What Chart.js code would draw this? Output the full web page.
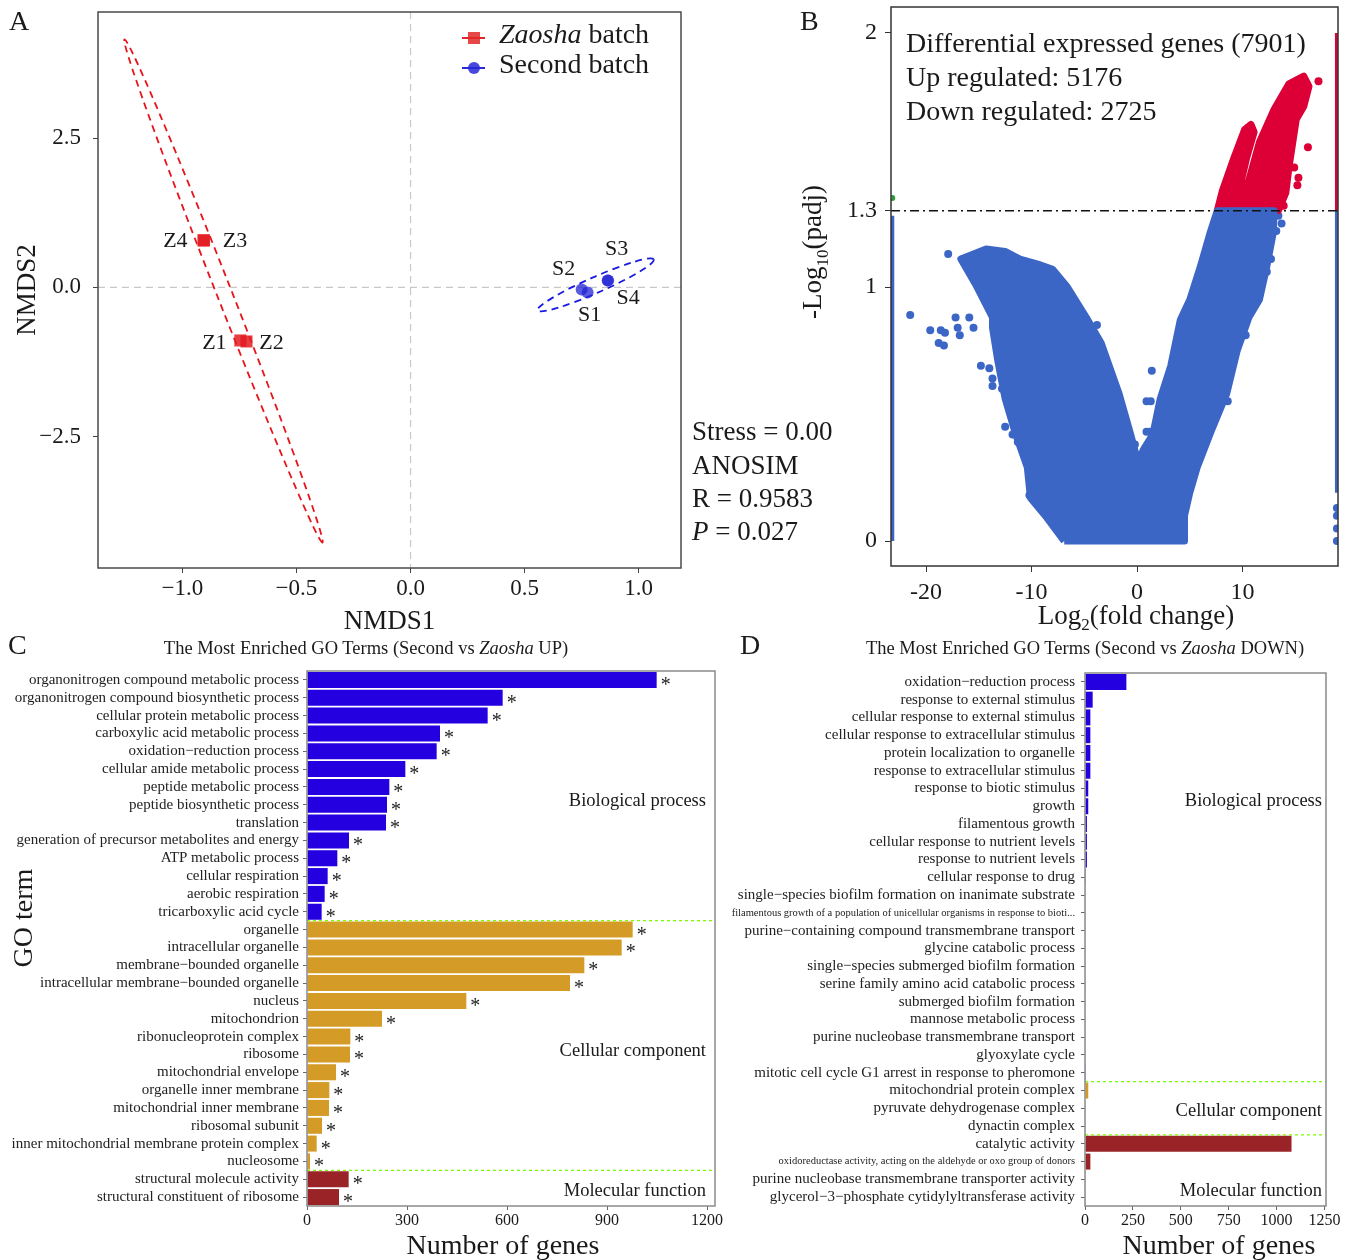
<!DOCTYPE html>
<html>
<head>
<meta charset="utf-8">
<title>NMDS, volcano and GO enrichment</title>
<script src="https://cdn.jsdelivr.net/npm/chart.js@4.4.1/dist/chart.umd.min.js"></script>
<style>
  body { margin: 0; background: #fff; }
  #page { position: relative; width: 1358px; height: 1260px; overflow: hidden; font-family: "Liberation Serif", "Times New Roman", serif; color: #1a1a1a; }
  #page canvas { position: absolute; }
  .t { position: absolute; white-space: nowrap; line-height: 1; }
  .c { transform: translateX(-50%); }
  .rot { transform: translate(-50%, -50%) rotate(-90deg); }
  .mk { position: absolute; }
</style>
</head>
<body>
<div id="page">
  <canvas id="nmds" width="700" height="640" style="left:0;top:0"></canvas>
  <canvas id="volcano" width="578" height="640" style="left:780px;top:0"></canvas>
  <canvas id="goUp" width="730" height="630" style="left:0;top:630px"></canvas>
  <canvas id="goDown" width="638" height="630" style="left:720px;top:630px"></canvas>

  <!-- panel letters -->
  <div class="t" style="left:9px;top:7px;font-size:28px">A</div>
  <div class="t" style="left:800px;top:7px;font-size:28px">B</div>
  <div class="t" style="left:8px;top:631px;font-size:28px">C</div>
  <div class="t" style="left:740px;top:631px;font-size:28px">D</div>

  <!-- A legend -->
  <div class="mk" style="left:462px;top:37px;width:23px;height:2px;background:#e0262b"></div>
  <div class="mk" style="left:468px;top:32px;width:12px;height:12px;background:rgba(226,40,40,0.85)"></div>
  <div class="t" style="left:499px;top:20px;font-size:28px"><i>Zaosha</i> batch</div>
  <div class="mk" style="left:462px;top:67px;width:23px;height:2px;background:#2a2ad6"></div>
  <div class="mk" style="left:468px;top:62px;width:12px;height:12px;border-radius:50%;background:rgba(40,40,214,0.85)"></div>
  <div class="t" style="left:499px;top:50px;font-size:28px">Second batch</div>

  <!-- A stats -->
  <div class="t" style="left:692px;top:418px;font-size:27px">Stress = 0.00</div>
  <div class="t" style="left:692px;top:452px;font-size:27px">ANOSIM</div>
  <div class="t" style="left:692px;top:485px;font-size:27px">R = 0.9583</div>
  <div class="t" style="left:692px;top:518px;font-size:27px"><i>P</i> = 0.027</div>

  <!-- B texts -->
  <div class="t" style="left:906px;top:29px;font-size:28px">Differential expressed genes (7901)</div>
  <div class="t" style="left:906px;top:63px;font-size:28px">Up regulated: 5176</div>
  <div class="t" style="left:906px;top:97px;font-size:28px">Down regulated: 2725</div>
  <div class="t c" style="left:1136px;top:602px;font-size:27px">Log<sub style="font-size:17px">2</sub>(fold change)</div>
  <div class="t rot" style="left:815px;top:252px;font-size:27px">-Log<sub style="font-size:17px">10</sub>(padj)</div>

  <!-- C texts -->
  <div class="t c" style="left:366px;top:639px;font-size:18.5px">The Most Enriched GO Terms (Second vs <i>Zaosha</i> UP)</div>
  <div class="t rot" style="left:23px;top:918px;font-size:28px">GO term</div>
  <div class="t c" style="left:503px;top:1231px;font-size:28px">Number of genes</div>
  <div class="t" style="right:652px;top:791px;font-size:18.5px">Biological process</div>
  <div class="t" style="right:652px;top:1041px;font-size:18.5px">Cellular component</div>
  <div class="t" style="right:652px;top:1181px;font-size:18.5px">Molecular function</div>

  <!-- D texts -->
  <div class="t c" style="left:1085px;top:639px;font-size:18.5px">The Most Enriched GO Terms (Second vs <i>Zaosha</i> DOWN)</div>
  <div class="t c" style="left:1219px;top:1231px;font-size:28px">Number of genes</div>
  <div class="t" style="right:36px;top:791px;font-size:18.5px">Biological process</div>
  <div class="t" style="right:36px;top:1101px;font-size:18.5px">Cellular component</div>
  <div class="t" style="right:36px;top:1181px;font-size:18.5px">Molecular function</div>
</div>

<script>
// ---------- data: A (NMDS) ----------
const zaoshaNames = ["Z1", "Z2", "Z3", "Z4"];
const zaoshaX = [-0.746, -0.719, -0.905, -0.908];
const zaoshaY = [-0.889, -0.906, 0.789, 0.789];
const secondNames = ["S1", "S2", "S3", "S4"];
const secondX = [0.776, 0.75, 0.864, 0.866];
const secondY = [-0.084, -0.034, 0.117, 0.115];
// ellipses: both ends of the long axis, plus short/long ratio
const zaoshaEllipseX = [-1.254, -0.386];
const zaoshaEllipseY = [4.16, -4.28];
const zaoshaEllipseRatio = 0.028;
const secondEllipseX = [0.557, 1.066];
const secondEllipseY = [-0.386, 0.47];
const secondEllipseRatio = 0.125;
const nmdsXTicks = [-1, -0.5, 0, 0.5, 1];
const nmdsYTicks = [-2.5, 0, 2.5];

// ---------- data: B (volcano) ----------
// outline of the dense non-significant cloud
const nsOutlineX = [-6.9, -8.7, -10.1, -10.4, -11.5, -12.5, -13.2, -13.7, -13.7, -15.3, -16.7, -14.3, -12.5, -11.1, -9.4, -8.0, -6.6, -4.8, -3.4, -1.7, -0.6, 0.1, 0.6, 1.5, 2.2, 3.2, 4.1, 5.0, 6.0, 6.9, 7.6, 13.0, 12.9, 12.3, 11.6, 10.6, 9.5, 8.5, 7.1, 5.7, 5.0, 4.5, 4.5, -6.9];
const nsOutlineY = [0, 0.10, 0.17, 0.29, 0.42, 0.56, 0.71, 0.84, 0.88, 1.01, 1.11, 1.15, 1.14, 1.11, 1.09, 1.07, 1.0, 0.88, 0.78, 0.58, 0.42, 0.31, 0.36, 0.42, 0.56, 0.69, 0.87, 0.95, 1.08, 1.21, 1.30, 1.30, 1.21, 1.08, 0.95, 0.88, 0.75, 0.58, 0.44, 0.29, 0.19, 0.10, 0, 0];
// outline of the dense up-regulated cloud
const upOutlineX = [7.6, 8.1, 9.2, 10.2, 10.8, 11.1, 10.4, 9.9, 10.4, 11.6, 13.0, 14.4, 15.8, 16.3, 15.8, 15.1, 14.8, 14.4, 14.1, 13.4, 7.6];
const upOutlineY = [1.30, 1.38, 1.51, 1.62, 1.64, 1.61, 1.51, 1.42, 1.39, 1.57, 1.70, 1.80, 1.83, 1.79, 1.71, 1.66, 1.58, 1.47, 1.37, 1.30, 1.30];
// scattered genes outside the dense clouds
const nsPointsX = [-21.5, -19.6, -18.6, -18.2, -18.8, -18.3, -17.2, -16.8, -17.0, -15.9, -15.5, -17.9, -14.8, -14.0, -13.7, -13.7, -12.8, -12.5, -11.6, -10.8, -10.6, -9.9, -9.9, -11.8, -11.3, -10.4, -10.2, -9.5, -3.8, -0.2, 0.9, 1.3, 0.9, 1.2, 1.4, 7.8, 8.0, 8.6, 9.1, 10.3, 12.3, 12.7, 13.2, 13.7, 13.4, 18.95, 18.95, 18.95, 18.95];
const nsPointsY = [0.89, 0.83, 0.83, 0.82, 0.78, 0.77, 0.88, 0.81, 0.84, 0.88, 0.84, 1.13, 0.69, 0.68, 0.64, 0.61, 0.60, 0.45, 0.59, 0.60, 0.53, 0.52, 0.45, 0.42, 0.39, 0.31, 0.18, 0.16, 0.85, 0.38, 0.55, 0.55, 0.43, 0.43, 0.67, 0.62, 0.64, 0.55, 0.74, 0.81, 1.06, 1.11, 1.22, 1.25, 1.28, 0.13, 0.10, 0.05, 0.0];
const upPointsX = [16.2, 15.3, 15.2, 17.2, 9.6, 10.0, 13.7, 13.9, 14.9];
const upPointsY = [1.55, 1.43, 1.40, 1.81, 1.36, 1.33, 1.34, 1.32, 1.47];
// genes piled on the plot edges (infinite fold change)
const leftEdgeX = [-23.2, -23.2];
const leftEdgeY = [0, 1.28];
const rightEdgeNsX = [18.95, 18.95];
const rightEdgeNsY = [0.19, 1.3];
const rightEdgeUpX = [18.95, 18.95];
const rightEdgeUpY = [1.3, 2.0];
const downEdgeX = [-23.2];
const downEdgeY = [1.35];
const foldTicks = [-20, -10, 0, 10];
const padjTicks = [0, 1, 1.3, 2];
const padjCutoff = 1.3;

// ---------- data: C (GO up) ----------
const upBpTerms = ["organonitrogen compound metabolic process", "organonitrogen compound biosynthetic process", "cellular protein metabolic process", "carboxylic acid metabolic process", "oxidation\u2212reduction process", "cellular amide metabolic process", "peptide metabolic process", "peptide biosynthetic process", "translation", "generation of precursor metabolites and energy", "ATP metabolic process", "cellular respiration", "aerobic respiration", "tricarboxylic acid cycle"];
const upBpCounts = [1049, 587, 542, 399, 389, 295, 247, 240, 237, 126, 91, 62, 53, 44];
const upCcTerms = ["organelle", "intracellular organelle", "membrane\u2212bounded organelle", "intracellular membrane\u2212bounded organelle", "nucleus", "mitochondrion", "ribonucleoprotein complex", "ribosome", "mitochondrial envelope", "organelle inner membrane", "mitochondrial inner membrane", "ribosomal subunit", "inner mitochondrial membrane protein complex", "nucleosome"];
const upCcCounts = [977, 944, 832, 789, 478, 225, 130, 129, 87, 67, 66, 45, 29, 9];
const upMfTerms = ["structural molecule activity", "structural constituent of ribosome"];
const upMfCounts = [125, 96];
const upTicks = [0, 300, 600, 900, 1200];

// ---------- data: D (GO down) ----------
const downBpTerms = ["oxidation\u2212reduction process", "response to external stimulus", "cellular response to external stimulus", "cellular response to extracellular stimulus", "protein localization to organelle", "response to extracellular stimulus", "response to biotic stimulus", "growth", "filamentous growth", "cellular response to nutrient levels", "response to nutrient levels", "cellular response to drug", "single\u2212species biofilm formation on inanimate substrate", "filamentous growth of a population of unicellular organisms in response to bioti...", "purine\u2212containing compound transmembrane transport", "glycine catabolic process", "single\u2212species submerged biofilm formation", "serine family amino acid catabolic process", "submerged biofilm formation", "mannose metabolic process", "purine nucleobase transmembrane transport", "glyoxylate cycle", "mitotic cell cycle G1 arrest in response to pheromone"];
const downBpCounts = [216, 40, 28, 28, 28, 28, 17, 17, 10, 10, 10, 4, 2, 2, 2, 2, 2, 2, 2, 2, 2, 2, 1];
const downCcTerms = ["mitochondrial protein complex", "pyruvate dehydrogenase complex", "dynactin complex"];
const downCcCounts = [17, 2, 2];
const downMfTerms = ["catalytic activity", "oxidoreductase activity, acting on the aldehyde or oxo group of donors", "purine nucleobase transmembrane transporter activity", "glycerol\u22123\u2212phosphate cytidylyltransferase activity"];
const downMfCounts = [1078, 28, 2, 2];
const downTicks = [0, 250, 500, 750, 1000, 1250];

// ---------- styles ----------
const SERIF = '"Liberation Serif", "Times New Roman", serif';
const VOL_BLUE = "#3b66c6";
const VOL_RED = "#dc0036";
const BP_COL = "#2400e0";
const CC_COL = "#d49b27";
const MF_COL = "#9a2327";

Chart.defaults.font.family = SERIF;
Chart.defaults.color = "#1a1a1a";
Chart.defaults.animation = false;
Chart.defaults.plugins.legend.display = false;
Chart.defaults.plugins.tooltip.enabled = false;

const pts = (xs, ys) => xs.map((x, i) => ({ x: x, y: ys[i] }));
const signed = (v) => (v < 0 ? "\u2212" : "") + Math.abs(v).toFixed(1);

// fixed axis boxes, no extra room for half labels
const fixWidth = (w) => (s) => { s.width = w; s.paddingTop = 0; s.paddingBottom = 0; };
const fixHeight = (h) => (s) => { s.height = h; s.paddingLeft = 0; s.paddingRight = 0; };

// box round the plot area
const frame = {
  id: "frame",
  afterDraw(chart, args, opts) {
    const { ctx, chartArea: a } = chart;
    ctx.save();
    ctx.strokeStyle = opts.color || "#444";
    ctx.lineWidth = opts.width || 1.5;
    ctx.strokeRect(a.left, a.top, a.right - a.left, a.bottom - a.top);
    ctx.restore();
  }
};

// ---------- A ----------
const labelOffsets = { Z1: [-26, 3], Z2: [25, 2], Z3: [31, 1], Z4: [-28, 1], S1: [2, 23], S2: [-18, -20], S3: [9, -31], S4: [20, 18] };

function drawEllipse(chart, xs, ys, ratio, color) {
  const sx = chart.scales.x, sy = chart.scales.y, ctx = chart.ctx;
  const x1 = sx.getPixelForValue(xs[0]), y1 = sy.getPixelForValue(ys[0]);
  const x2 = sx.getPixelForValue(xs[1]), y2 = sy.getPixelForValue(ys[1]);
  const half = Math.hypot(x2 - x1, y2 - y1) / 2;
  ctx.save();
  ctx.setLineDash([7, 5]);
  ctx.lineWidth = 1.8;
  ctx.strokeStyle = color;
  ctx.beginPath();
  ctx.ellipse((x1 + x2) / 2, (y1 + y2) / 2, half, half * ratio, Math.atan2(y2 - y1, x2 - x1), 0, Math.PI * 2);
  ctx.stroke();
  ctx.restore();
}

const nmdsDecor = {
  id: "nmdsDecor",
  beforeDatasetsDraw(chart) {
    const { ctx, chartArea: a, scales } = chart;
    const x0 = scales.x.getPixelForValue(0), y0 = scales.y.getPixelForValue(0);
    ctx.save();
    ctx.strokeStyle = "#c8c8c8";
    ctx.lineWidth = 1.2;
    ctx.setLineDash([7, 5]);
    ctx.beginPath();
    ctx.moveTo(x0, a.top); ctx.lineTo(x0, a.bottom);
    ctx.moveTo(a.left, y0); ctx.lineTo(a.right, y0);
    ctx.stroke();
    ctx.restore();
    drawEllipse(chart, zaoshaEllipseX, zaoshaEllipseY, zaoshaEllipseRatio, "#e8141c");
    drawEllipse(chart, secondEllipseX, secondEllipseY, secondEllipseRatio, "#1a1ae0");
  },
  afterDatasetsDraw(chart) {
    const ctx = chart.ctx;
    ctx.save();
    ctx.font = "22px " + SERIF;
    ctx.fillStyle = "#1a1a1a";
    ctx.textAlign = "center";
    ctx.textBaseline = "middle";
    [[zaoshaNames, 0], [secondNames, 1]].forEach(([names, di]) => {
      chart.getDatasetMeta(di).data.forEach((p, i) => {
        const o = labelOffsets[names[i]];
        ctx.fillText(names[i], p.x + o[0], p.y + o[1]);
      });
    });
    ctx.restore();
  }
};

new Chart(document.getElementById("nmds"), {
  type: "scatter",
  data: {
    datasets: [
      { label: "Zaosha batch", data: pts(zaoshaX, zaoshaY), pointStyle: "rect", pointRadius: 8.5, backgroundColor: "rgba(226,28,33,0.85)", borderWidth: 0 },
      { label: "Second batch", data: pts(secondX, secondY), pointStyle: "circle", pointRadius: 6, backgroundColor: "rgba(36,36,214,0.75)", borderWidth: 0 }
    ]
  },
  options: {
    responsive: false,
    layout: { padding: { top: 12, right: 19, left: 0, bottom: 0 } },
    scales: {
      x: {
        type: "linear", min: -1.37, max: 1.1855,
        afterBuildTicks: (s) => { s.ticks = nmdsXTicks.map((v) => ({ value: v })); },
        afterFit: fixHeight(72),
        ticks: { callback: signed, font: { size: 23 }, padding: 2, color: "#1a1a1a" },
        grid: { drawOnChartArea: false, tickLength: 5, color: "#444" },
        border: { display: false },
        title: { display: true, text: "NMDS1", font: { size: 27 }, padding: { top: 0, bottom: 2 }, color: "#1a1a1a" }
      },
      y: {
        type: "linear", min: -4.705, max: 4.619,
        afterBuildTicks: (s) => { s.ticks = nmdsYTicks.map((v) => ({ value: v })); },
        afterFit: fixWidth(98),
        ticks: { callback: signed, font: { size: 23 }, padding: 12, color: "#1a1a1a" },
        grid: { drawOnChartArea: false, tickLength: 5, color: "#444" },
        border: { display: false },
        title: { display: true, text: "NMDS2", font: { size: 27 }, padding: { top: 12, bottom: 0 }, color: "#1a1a1a" }
      }
    },
    plugins: { frame: { color: "#4a4a4a" } }
  },
  plugins: [frame, nmdsDecor]
});

// ---------- B ----------
const cutoffLine = {
  id: "cutoffLine",
  afterDatasetsDraw(chart) {
    const { ctx, chartArea: a } = chart;
    const y = chart.scales.y.getPixelForValue(padjCutoff);
    ctx.save();
    ctx.strokeStyle = "#111";
    ctx.lineWidth = 1.6;
    ctx.setLineDash([9, 4, 2, 4]);
    ctx.beginPath();
    ctx.moveTo(a.left, y);
    ctx.lineTo(a.right, y);
    ctx.stroke();
    ctx.restore();
  }
};

new Chart(document.getElementById("volcano"), {
  type: "scatter",
  data: {
    datasets: [
      { data: pts(nsOutlineX, nsOutlineY), showLine: true, fill: "shape", backgroundColor: VOL_BLUE, borderColor: VOL_BLUE, borderWidth: 7, borderJoinStyle: "round", pointRadius: 0 },
      { data: pts(upOutlineX, upOutlineY), showLine: true, fill: "shape", backgroundColor: VOL_RED, borderColor: VOL_RED, borderWidth: 7, borderJoinStyle: "round", pointRadius: 0 },
      { data: pts(nsPointsX, nsPointsY), pointRadius: 4, backgroundColor: VOL_BLUE, borderWidth: 0 },
      { data: pts(upPointsX, upPointsY), pointRadius: 4, backgroundColor: VOL_RED, borderWidth: 0 },
      { data: pts(leftEdgeX, leftEdgeY), showLine: true, borderColor: VOL_BLUE, borderWidth: 4, pointRadius: 0 },
      { data: pts(rightEdgeNsX, rightEdgeNsY), showLine: true, borderColor: VOL_BLUE, borderWidth: 4, pointRadius: 0 },
      { data: pts(rightEdgeUpX, rightEdgeUpY), showLine: true, borderColor: VOL_RED, borderWidth: 4, pointRadius: 0 },
      { data: pts(downEdgeX, downEdgeY), pointRadius: 3, backgroundColor: "#2e9a3a", borderWidth: 0 }
    ]
  },
  options: {
    responsive: false,
    layout: { padding: { top: 7, right: 20, left: 0, bottom: 0 } },
    scales: {
      x: {
        type: "linear", min: -23.32, max: 19.05,
        afterBuildTicks: (s) => { s.ticks = foldTicks.map((v) => ({ value: v })); },
        afterFit: fixHeight(74),
        ticks: { callback: (v) => String(v), font: { size: 24 }, padding: 6, color: "#1a1a1a" },
        grid: { drawOnChartArea: false, tickLength: 6, color: "#333" },
        border: { display: false }
      },
      y: {
        type: "linear", min: -0.098, max: 2.102,
        afterBuildTicks: (s) => { s.ticks = padjTicks.map((v) => ({ value: v })); },
        afterFit: fixWidth(111),
        ticks: { callback: (v) => String(v), font: { size: 24 }, padding: 8, color: "#1a1a1a" },
        grid: { drawOnChartArea: false, tickLength: 6, color: "#333" },
        border: { display: false }
      }
    },
    plugins: { frame: { color: "#333" } }
  },
  plugins: [frame, cutoffLine]
});

// ---------- C and D ----------
const sectionLines = {
  id: "sectionLines",
  afterDatasetsDraw(chart, args, opts) {
    const { ctx, chartArea: a } = chart;
    ctx.save();
    ctx.strokeStyle = "#7cfc00";
    ctx.lineWidth = 1.3;
    ctx.setLineDash([3, 3]);
    opts.bounds.forEach((b) => {
      const y = chart.scales.y.getPixelForValue(b - 0.5);
      ctx.beginPath();
      ctx.moveTo(a.left, y);
      ctx.lineTo(a.right, y);
      ctx.stroke();
    });
    ctx.restore();
  }
};

const stars = {
  id: "stars",
  afterDatasetsDraw(chart, args, opts) {
    if (!opts.show) return;
    const ctx = chart.ctx;
    ctx.save();
    ctx.font = "20px " + SERIF;
    ctx.fillStyle = "#222";
    ctx.textAlign = "left";
    ctx.textBaseline = "alphabetic";
    chart.getDatasetMeta(0).data.forEach((bar) => {
      ctx.fillText("*", bar.x + 4, bar.y + 11);
    });
    ctx.restore();
  }
};

function goChart(id, bp, bpN, cc, ccN, mf, mfN, o) {
  const terms = bp.concat(cc, mf);
  const counts = bpN.concat(ccN, mfN);
  const colors = bp.map(() => BP_COL).concat(cc.map(() => CC_COL), mf.map(() => MF_COL));
  return new Chart(document.getElementById(id), {
    type: "bar",
    data: {
      labels: terms,
      datasets: [{ data: counts, backgroundColor: colors, borderWidth: 0, barPercentage: 0.9, categoryPercentage: 1 }]
    },
    options: {
      indexAxis: "y",
      responsive: false,
      layout: { padding: { top: o.top, right: o.right, left: 0, bottom: 0 } },
      scales: {
        x: {
          type: "linear", min: 0, max: o.max,
          afterBuildTicks: (s) => { s.ticks = o.ticks.map((v) => ({ value: v })); },
          afterFit: fixHeight(54),
          ticks: { callback: (v) => String(v), font: { size: 16 }, padding: 1, color: "#1a1a1a" },
          grid: { drawOnChartArea: false, tickLength: 4, color: "#666" },
          border: { display: false }
        },
        y: {
          afterFit: fixWidth(o.axisWidth),
          ticks: {
            autoSkip: false,
            padding: o.labelPad,
            color: "#222",
            font: (c) => ({ size: terms[c.index] && terms[c.index].length > 60 ? 10.5 : 15 })
          },
          grid: { drawOnChartArea: false, offset: false, tickLength: 4, color: "#666" },
          border: { display: false }
        }
      },
      plugins: {
        frame: { color: "#8a8a8a", width: 1.5 },
        sectionLines: { bounds: [bp.length, bp.length + cc.length] },
        stars: { show: o.stars }
      }
    },
    plugins: [frame, sectionLines, stars]
  });
}

goChart("goUp", upBpTerms, upBpCounts, upCcTerms, upCcCounts, upMfTerms, upMfCounts,
  { top: 41, right: 15, max: 1224, ticks: upTicks, axisWidth: 307, labelPad: 4, stars: true });
goChart("goDown", downBpTerms, downBpCounts, downCcTerms, downCcCounts, downMfTerms, downMfCounts,
  { top: 43, right: 32, max: 1258, ticks: downTicks, axisWidth: 365, labelPad: 6, stars: false });
</script>
</body>
</html>
